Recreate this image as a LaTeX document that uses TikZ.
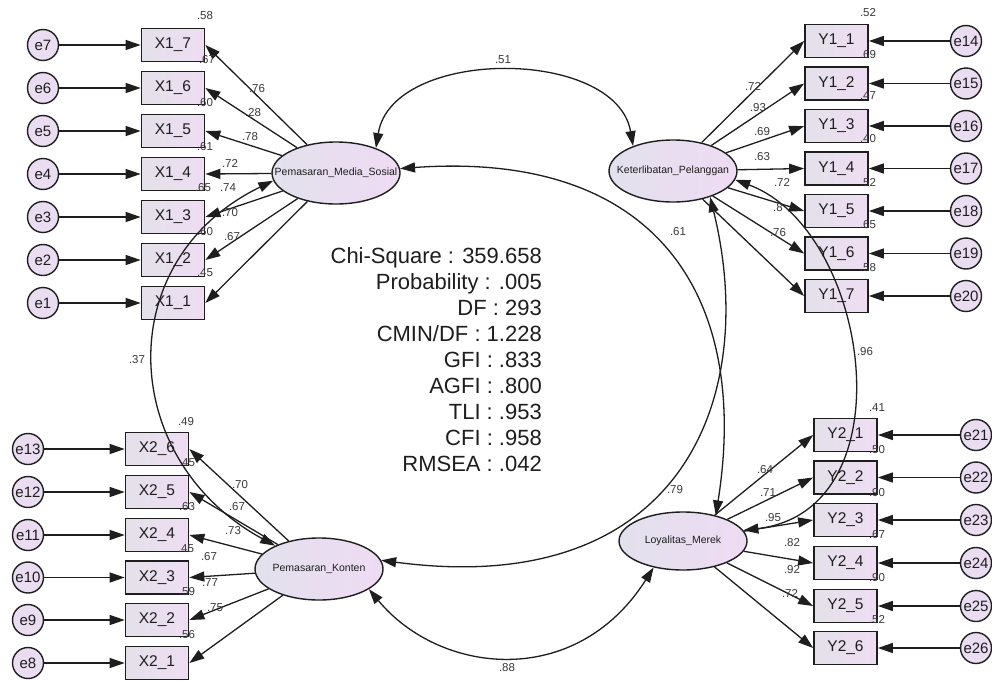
\documentclass[tikz,border=0pt]{standalone}
\usepackage{fontspec}
\setmainfont{Liberation Sans}
\usetikzlibrary{shapes.geometric,arrows.meta}

\definecolor{boxL}{HTML}{E3E1EA}
\definecolor{boxR}{HTML}{EFDDF3}
\definecolor{latL}{HTML}{E2E1EC}
\definecolor{latR}{HTML}{EFDBF4}
\definecolor{errC}{HTML}{EADDF1}
\definecolor{ink}{HTML}{1E1E1E}
\definecolor{numC}{HTML}{3A3A3A}

\begin{document}
\begin{tikzpicture}[x=1pt,y=-1pt,
  obs/.style={rectangle, draw=ink, line width=1.7pt, minimum width=63pt,
    minimum height=33pt, inner sep=0pt, left color=boxL, right color=boxR,
    font=\fontsize{15.5}{16}\selectfont, text=ink},
  err/.style={circle, draw=ink, line width=1.4pt, minimum size=31pt,
    inner sep=0pt, fill=errC, font=\fontsize{15}{16}\selectfont, text=ink},
  lat/.style={ellipse, draw=ink, line width=1.4pt, minimum width=128pt,
    minimum height=62pt, inner sep=0pt, left color=latL, right color=latR,
    font=\fontsize{10.5}{11}\selectfont, text=ink},
  arr/.style={draw=ink, line width=1.3pt, -{Triangle[length=15pt,width=10pt]}},
  cov/.style={draw=ink, line width=1.3pt,
    {Triangle[length=15pt,width=10pt]}-{Triangle[length=15pt,width=10pt]}},
  lbl/.style={font=\fontsize{11.5}{12}\selectfont, text=numC, inner sep=0pt},
  stat/.style={font=\fontsize{22}{24}\selectfont, text=ink, inner sep=0pt, anchor=base east},
]
\useasboundingbox (0,0) rectangle (992,680);
\fill[white] (0,0) rectangle (992,680);

% latent variables
\node[lat] (PMS) at (336,173) {\makebox[0pt]{Pemasaran\_Media\_Sosial}};
\node[lat] (KP)  at (673,171) {\makebox[0pt]{Keterlibatan\_Pelanggan}};
\node[lat] (PK)  at (319,569) {\makebox[0pt]{Pemasaran\_Konten}};
\node[lat, minimum height=58pt] (LM) at (683,541) {\makebox[0pt]{Loyalitas\_Merek}};

% indicators of Pemasaran_Media_Sosial
\foreach \k/\y in {7/45,6/88,5/131,4/174,3/217,2/260,1/303}{
  \node[obs] (xa\k) at (173,\y) {X1\_\k};
  \node[err] (e\k) at (43,\y) {e\k};
  \draw[arr] (e\k) -- (xa\k);
  \draw[arr] (PMS) -- (xa\k.east);
}

% indicators of Keterlibatan_Pelanggan
\foreach \k/\y/\e in {1/41/14,2/83.5/15,3/126/16,4/168.5/17,5/211/18,6/253.5/19,7/296/20}{
  \node[obs] (ya\k) at (836.5,\y) {Y1\_\k};
  \node[err] (e\e) at (966,\y) {e\e};
  \draw[arr] (e\e) -- (ya\k);
  \draw[arr] (KP) -- (ya\k.west);
}

% indicators of Pemasaran_Konten
\foreach \k/\y/\e in {6/449/13,5/492/12,4/535/11,3/577.5/10,2/620/9,1/663/8}{
  \node[obs] (xb\k) at (157,\y) {X2\_\k};
  \node[err] (e\e) at (28,\y) {e\e};
  \draw[arr] (e\e) -- (xb\k);
  \draw[arr] (PK) -- (xb\k.east);
}

% indicators of Loyalitas_Merek
\foreach \k/\y/\e in {1/435/21,2/477.5/22,3/520/23,4/563/24,5/606/25,6/648/26}{
  \node[obs] (yb\k) at (845.5,\y) {Y2\_\k};
  \node[err] (e\e) at (976,\y) {e\e};
  \draw[arr] (e\e) -- (yb\k);
  \draw[arr] (LM) -- (yb\k.west);
}

% covariances between the latent variables
\draw[cov] (PMS.32) .. controls (392,47) and (616,47) .. (KP.148);
\draw[cov] (PMS.4) .. controls (660,150) and (750,300) .. (LM.38);
\draw[cov] (KP.-35) .. controls (760,400) and (680,600) .. (PK.8);
\draw[cov] (KP.-8) .. controls (870,230) and (910,510) .. (LM.10);
\draw[cov] (PMS.187) .. controls (110,260) and (118,460) .. (PK.152);
\draw[cov] (PK.-22) .. controls (440,675) and (576,690) .. (LM.-138);

% squared multiple correlations and loadings, X1 block
\foreach \t/\x/\y [count=\i] in {.58/205/16,.67/207/60,.60/205/103,.61/205/147,
    .65/203/188,.60/205/232,.45/205/273,
    .76/257/89,.28/253/113,.78/250/137,.72/230/163,.74/228/188,.70/230/213,.67/232/237}
  \node[lbl] (la\i) at (\x,\y) {\t};

% Y1 block
\foreach \t/\x/\y [count=\i] in {.52/868/13,.69/868/55,.47/868/96,.40/868/139,
    .52/868/183,.65/868/225,.58/868/268,
    .72/753/86,.93/758/108,.69/762/132,.63/762/157,.72/782/182,.8/778/208,.76/778/233}
  \node[lbl] (lb\i) at (\x,\y) {\t};

% X2 block
\foreach \t/\x/\y [count=\i] in {.49/186/422,.45/187/463,.63/187/507,.45/186/549,
    .59/187/592,.56/187/635,
    .70/240/485,.67/237/507,.73/233/531,.67/209/557,.77/210/583,.75/215/608}
  \node[lbl] (lc\i) at (\x,\y) {\t};

% Y2 block
\foreach \t/\x/\y [count=\i] in {.41/877/408,.50/877/450,.90/877/493,.67/877/535,
    .90/877/578,.52/877/620,
    .64/765/470,.71/768/493,.95/773/518,.82/792/543,.92/792/570,.72/790/593}
  \node[lbl] (ld\i) at (\x,\y) {\t};

% covariance values
\node[lbl] (c51) at (503,60) {.51};
\node[lbl] (c61) at (678,232) {.61};
\node[lbl] (c79) at (675,490) {.79};
\node[lbl] (c96) at (865,352) {.96};
\node[lbl] (c37) at (137,360) {.37};
\node[lbl] (c88) at (507,668) {.88};

% fit statistics
\foreach \t [count=\i from 0] in {Chi-Square : 359.658,Probability : .005,DF : 293,
    CMIN/DF : 1.228,GFI : .833,AGFI : .800,TLI : .953,CFI : .958,RMSEA : .042}
  \node[stat] (fit\i) at (542,263+26*\i) {\t};
\end{tikzpicture}
\end{document}
